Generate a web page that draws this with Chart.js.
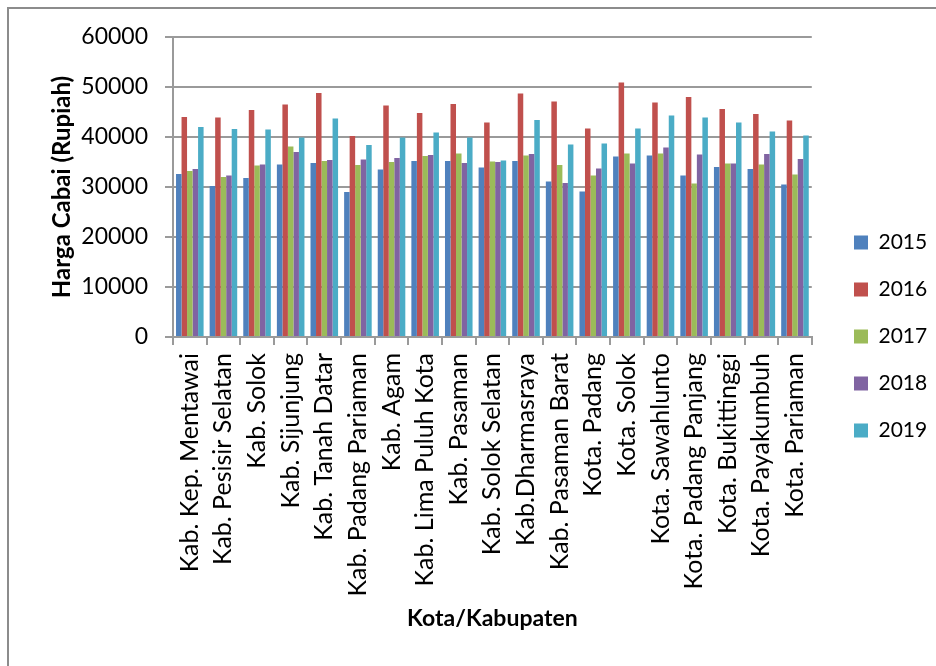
<!DOCTYPE html>
<html>
<head>
<meta charset="utf-8">
<script src="https://cdn.jsdelivr.net/npm/chart.js@4/dist/chart.umd.min.js"></script>
<style>
  html, body { margin: 0; padding: 0; background: #ffffff; }
  #wrap { width: 936px; height: 666px; position: relative; }
</style>
</head>
<body>
<div id="wrap"><canvas id="c" width="936" height="666"></canvas></div>
<script>
// Harga cabai per kota/kabupaten di Sumatera Barat, 2015-2019 (Rupiah)
const categories = [
  "Kab. Kep. Mentawai", "Kab. Pesisir Selatan", "Kab. Solok", "Kab. Sijunjung",
  "Kab. Tanah Datar", "Kab. Padang Pariaman", "Kab. Agam", "Kab. Lima Puluh Kota",
  "Kab. Pasaman", "Kab. Solok Selatan", "Kab.Dharmasraya", "Kab. Pasaman Barat",
  "Kota. Padang", "Kota. Solok", "Kota. Sawahlunto", "Kota. Padang Panjang",
  "Kota. Bukittinggi", "Kota. Payakumbuh", "Kota. Pariaman"
];
const years = ["2015", "2016", "2017", "2018", "2019"];

const harga2015 = [32600, 30200, 31800, 34500, 34800, 29000, 33500, 35200, 35200, 33900, 35200, 31100, 29100, 36100, 36300, 32300, 34000, 33600, 30500];
const harga2016 = [44000, 43900, 45400, 46500, 48800, 40200, 46300, 44800, 46600, 42900, 48700, 47100, 41700, 50900, 46900, 48000, 45600, 44600, 43300];
const harga2017 = [33200, 32000, 34300, 38100, 35200, 34400, 35000, 36200, 36700, 35100, 36300, 34400, 32300, 36700, 36700, 30700, 34700, 34500, 32500];
const harga2018 = [33600, 32300, 34500, 37000, 35400, 35500, 35800, 36400, 34800, 35000, 36600, 30800, 33700, 34700, 37900, 36500, 34700, 36600, 35600];
const harga2019 = [42000, 41600, 41500, 39900, 43700, 38400, 39900, 40900, 39900, 35300, 43400, 38500, 38700, 41700, 44300, 43900, 42900, 41100, 40300];

const yTicks = [0, 10000, 20000, 30000, 40000, 50000, 60000];

const seriesValues = [harga2015, harga2016, harga2017, harga2018, harga2019];
const seriesColors = ["#4F81BD", "#C0504D", "#9BBB59", "#8064A2", "#4BACC6"];

const FONT = "Lato, 'Open Sans', sans-serif";
const GRID = "#9a9a9a";

// white page with a thin frame starting at the top-left corner
const framePlugin = {
  id: "frame",
  beforeDraw(chart) {
    const ctx = chart.ctx;
    ctx.save();
    ctx.fillStyle = "#ffffff";
    ctx.fillRect(0, 0, chart.width, chart.height);
    ctx.strokeStyle = "#8c8c8c";
    ctx.lineWidth = 2;
    ctx.strokeRect(8, 8, chart.width + 20, chart.height + 20);
    ctx.restore();
  }
};

// move the legend column a little further from the plot
const legendShift = {
  id: "legendShift",
  afterLayout(chart) {
    const lg = chart.legend;
    if (!lg) return;
    const dx = 828 - lg.left;
    lg.left += dx;
    lg.right += dx;
  }
};

new Chart(document.getElementById("c"), {
  type: "bar",
  data: {
    labels: categories,
    datasets: years.map((y, i) => ({
      label: y,
      data: seriesValues[i],
      backgroundColor: seriesColors[i],
      borderWidth: 0,
      categoryPercentage: 0.82,
      barPercentage: 1.0
    }))
  },
  plugins: [framePlugin, legendShift],
  options: {
    responsive: false,
    animation: false,
    devicePixelRatio: 1,
    layout: { padding: { left: 40, top: 37, right: 15, bottom: 30 } },
    plugins: {
      tooltip: { enabled: false },
      legend: {
        position: "right",
        align: "center",
        labels: {
          boxWidth: 14,
          boxHeight: 14,
          padding: 26,
          color: "#000000",
          font: { family: FONT, size: 21 }
        }
      }
    },
    scales: {
      x: {
        grid: {
          display: true,
          offset: true,
          drawOnChartArea: false,
          drawTicks: true,
          tickLength: 8,
          color: GRID,
          lineWidth: 2
        },
        border: { display: true, color: GRID, width: 2 },
        ticks: {
          color: "#000000",
          font: { family: FONT, size: 25 },
          minRotation: 90,
          maxRotation: 90,
          autoSkip: false,
          padding: 8
        },
        title: {
          display: true,
          text: "Kota/Kabupaten",
          color: "#000000",
          font: { family: FONT, size: 23, weight: "bold" },
          padding: { top: 0, bottom: 4 }
        },
        afterFit(scale) { scale.height = 666 - 30 - 337; }
      },
      y: {
        min: 0,
        max: 60000,
        afterBuildTicks(scale) { scale.ticks = yTicks.map(v => ({ value: v })); },
        grid: {
          color: GRID,
          lineWidth: 2,
          tickLength: 8
        },
        border: { display: true, color: GRID, width: 2 },
        ticks: {
          color: "#000000",
          font: { family: FONT, size: 23 },
          padding: 17,
          callback: v => String(v)
        },
        title: {
          display: true,
          text: "Harga Cabai (Rupiah)",
          color: "#000000",
          font: { family: FONT, size: 24, weight: "bold" },
          padding: { top: 8, bottom: 0 }
        },
        afterFit(scale) { scale.width = 173 - 40; }
      }
    }
  }
});
</script>
</body>
</html>
